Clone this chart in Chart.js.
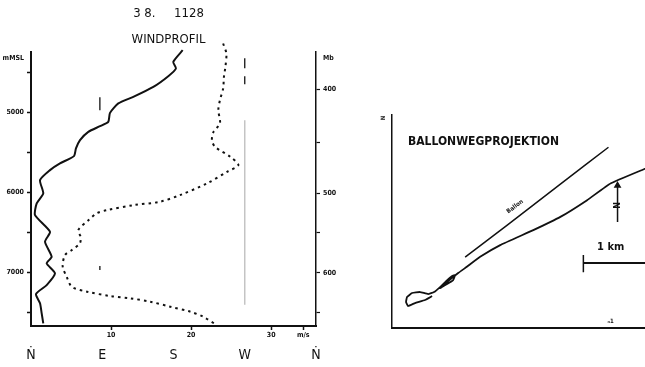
<!DOCTYPE html>
<html>
<head>
<meta charset="utf-8">
<script src="https://cdn.jsdelivr.net/npm/chart.js@4"></script>
<style>
  body { margin: 0; background: #fff; overflow: hidden; }
  #wind { position: absolute; left: 0; top: 0; }
  #path { position: absolute; left: 370px; top: 100px; }
</style>
</head>
<body>
<canvas id="wind" width="337" height="367"></canvas>
<canvas id="path" width="281" height="240"></canvas>
<script>
// --- Windprofil: height (m), direction (deg), speed (m/s)
const dirHeights = [4225, 4371, 4454, 4550, 4684, 4809, 4891, 5009, 5121, 5175, 5246, 5350, 5454, 5550, 5641, 5725,
  5850, 6016, 6141, 6288, 6496, 6621, 6809, 6891, 7016, 7163, 7275, 7391, 7516, 7641];
const dirValues = [191.6, 179.7, 183.1, 173.4, 154.5, 129.2, 110.3, 99.8, 97.6, 87.2, 72.4, 61.9, 56.8, 54.3, 36.6, 24.0,
  11.4, 15.5, 7.2, 5.1, 24.0, 17.7, 26.1, 19.8, 30.3, 19.8, 6.3, 11.4, 13.5, 15.5];

const speedHeights = [4141, 4266, 4420, 4559, 4704, 4850, 4975, 5141, 5246, 5350, 5434, 5559, 5663, 5740, 5891, 6038,
  6121, 6163, 6225, 6266, 6350, 6475, 6560, 6641, 6725, 6788, 6934, 7059, 7184, 7246, 7300, 7329, 7371, 7434, 7496, 7559, 7663];
const speedValues = [24.0, 24.4, 24.3, 24.1, 24.0, 23.6, 23.4, 23.6, 22.8, 22.6, 23.0, 24.9, 25.9, 24.6, 22.0, 18.6,
  16.1, 12.8, 9.5, 8.2, 7.2, 5.9, 6.2, 6.1, 5.1, 4.25, 3.96, 4.46, 5.1, 7.0, 9.9, 12.4, 14.9, 17.4, 19.9, 21.5, 23.2];

// marks drawn on the profile
const wLineHeights = [5100, 7410];
const wDashHeights = [[4325, 4450], [4550, 4650]];
const eMarkHeights = [[4812, 4975], [6925, 6975]];

// axes
const leftTickValues = [4325, 4500, 5000, 5500, 6000, 6500, 7000, 7500];
const leftTickLabels = ['mMSL', '', '5000', '', '6000', '', '7000', ''];
const rightTickValues = [4325, 4712, 5375, 6012, 6500, 7012, 7500];
const rightTickLabels = ['Mb', '400', '', '500', '', '600', ''];
const speedTickValues = [10, 20, 30, 34];
const speedTickLabels = ['10', '20', '30', 'm/s'];
const dirTickValues = [0, 90, 180, 270, 360];
const dirTickLabels = ['Ṅ', 'E', 'S', 'W', 'Ṅ'];

// --- Ballonwegprojektion (km)
const pathX = [0.645, 0.532, 0.371, 0.258, 0.226, 0.242, 0.323, 0.452, 0.581, 0.677, 0.774, 0.871, 0.968, 1.016, 0.984, 0.887, 0.774,
  1.065, 1.205, 1.419, 1.742, 2.274, 2.710, 3.140, 3.516, 4.081];
const pathY = [0.516, 0.452, 0.403, 0.355, 0.419, 0.500, 0.565, 0.581, 0.548, 0.581, 0.661, 0.758, 0.839, 0.855, 0.774, 0.710, 0.645,
  0.887, 0.989, 1.150, 1.339, 1.581, 1.795, 2.065, 2.334, 2.576];
const trackX = [1.177, 1.855, 2.710, 3.484];
const trackY = [1.145, 1.661, 2.323, 2.919];
const northX = [3.63, 3.63];
const northY = [1.71, 2.30];
const scaleBarX = [3.08, 4.08];
const scaleBarY = [1.048, 1.048];

const FONT = "'DejaVu Sans Condensed', 'DejaVu Sans', sans-serif";
const INK = '#111';

const pts = (xs, ys) => xs.map((x, i) => ({ x: x, y: ys[i] }));
const segs = (x, list) => {
  const out = [];
  list.forEach((s, i) => {
    if (i > 0) out.push({ x: x, y: null });
    out.push({ x: x, y: s[0] }, { x: x, y: s[1] });
  });
  return out;
};

new Chart(document.getElementById('wind'), {
  type: 'line',
  data: {
    datasets: [
      {
        data: pts(dirValues, dirHeights), xAxisID: 'xd', yAxisID: 'y',
        borderColor: INK, borderWidth: 2, pointRadius: 0, tension: 0.2, clip: false
      },
      {
        data: pts(speedValues, speedHeights), xAxisID: 'x', yAxisID: 'y',
        borderColor: INK, borderWidth: 2, borderDash: [2.5, 4], pointRadius: 0, tension: 0.3, clip: false
      },
      {
        data: segs(270, [wLineHeights]), xAxisID: 'xd', yAxisID: 'y',
        borderColor: '#c4c4c4', borderWidth: 1.5, pointRadius: 0
      },
      {
        data: segs(270, wDashHeights), xAxisID: 'xd', yAxisID: 'y',
        borderColor: INK, borderWidth: 1.3, pointRadius: 0
      },
      {
        data: segs(87, eMarkHeights), xAxisID: 'xd', yAxisID: 'y',
        borderColor: INK, borderWidth: 1.3, pointRadius: 0
      }
    ]
  },
  options: {
    responsive: false,
    animation: false,
    devicePixelRatio: 1,
    layout: { padding: 0 },
    plugins: {
      legend: { display: false },
      tooltip: { enabled: false },
      title: {
        display: true, text: '3 8.     1128', color: INK,
        font: { family: FONT, size: 13, weight: 'normal' }, padding: { top: 6, bottom: 4 }
      },
      subtitle: {
        display: true, text: 'WINDPROFIL', color: INK,
        font: { family: FONT, size: 13, weight: 'normal' }, padding: { top: 6, bottom: 5 }
      }
    },
    scales: {
      x: {
        type: 'linear', position: 'bottom', min: 0, max: 35.6, weight: 0,
        afterBuildTicks: s => { s.ticks = speedTickValues.map(v => ({ value: v })); },
        afterFit: s => { s.height = 16; },
        ticks: {
          callback: (v, i) => speedTickLabels[i], autoSkip: false, maxRotation: 0,
          font: { family: FONT, size: 7, weight: 'bold' }, color: INK, padding: 1
        },
        grid: { drawOnChartArea: false, tickLength: 4, tickColor: INK, tickWidth: 1.5 },
        border: { color: INK, width: 2 }
      },
      xd: {
        type: 'linear', position: 'bottom', min: 0, max: 360, weight: 1,
        afterBuildTicks: s => { s.ticks = dirTickValues.map(v => ({ value: v })); },
        afterFit: s => { s.height = 25; },
        ticks: {
          callback: (v, i) => dirTickLabels[i], autoSkip: false, maxRotation: 0,
          font: { family: FONT, size: 14 }, color: INK, padding: 5
        },
        grid: { display: false, drawTicks: false },
        border: { display: false }
      },
      y: {
        type: 'linear', position: 'left', min: 4250, max: 7675, reverse: true,
        afterBuildTicks: s => { s.ticks = leftTickValues.map(v => ({ value: v })); },
        afterFit: s => { s.width = 31; },
        ticks: {
          callback: (v, i) => leftTickLabels[i], autoSkip: false,
          font: { family: FONT, size: 7, weight: 'bold' }, color: INK, padding: 3
        },
        grid: {
          drawOnChartArea: false, tickLength: 4, tickWidth: 1.5,
          tickColor: ctx => (ctx.index === 0 ? 'rgba(0,0,0,0)' : INK)
        },
        border: { color: INK, width: 2 }
      },
      y2: {
        type: 'linear', position: 'right', min: 4250, max: 7675, reverse: true,
        afterBuildTicks: s => { s.ticks = rightTickValues.map(v => ({ value: v })); },
        afterFit: s => { s.width = 21; },
        ticks: {
          callback: (v, i) => rightTickLabels[i], autoSkip: false,
          font: { family: FONT, size: 7, weight: 'bold' }, color: INK, padding: 3
        },
        grid: {
          drawOnChartArea: false, tickLength: 4, tickWidth: 1.2,
          tickColor: ctx => (ctx.index === 0 ? 'rgba(0,0,0,0)' : INK)
        },
        border: { color: INK, width: 1.5 }
      }
    }
  }
});

// texts inside the projection, placed in km
const pathNotes = [
  { text: 'BALLONWEGPROJEKTION', x: 0.258, y: 3.0, size: 12, bold: true, align: 'left', angle: 0 },
  { text: '1 km', x: 3.52, y: 1.31, size: 11, bold: true, align: 'center', angle: 0 },
  { text: 'Ballon', x: 1.98, y: 1.96, size: 6, bold: true, align: 'center', angle: -37 },
  { text: 'N', x: 3.63, y: 1.98, size: 9, bold: true, align: 'center', angle: -90 },
  { text: 'N', x: -0.13, y: 3.39, size: 6, bold: true, align: 'center', angle: -90 },
  { text: 'ₙ1', x: 3.52, y: 0.10, size: 6, bold: true, align: 'center', angle: 0 }
];

const notesPlugin = {
  id: 'notes',
  afterDatasetsDraw(chart) {
    const { ctx, scales: { x, y } } = chart;
    ctx.save();
    ctx.fillStyle = INK;
    ctx.textBaseline = 'middle';
    pathNotes.forEach(n => {
      ctx.save();
      ctx.translate(x.getPixelForValue(n.x), y.getPixelForValue(n.y));
      ctx.rotate(n.angle * Math.PI / 180);
      ctx.font = (n.bold ? 'bold ' : '') + n.size + 'px ' + FONT;
      ctx.textAlign = n.align;
      ctx.fillText(n.text, 0, 0);
      ctx.restore();
    });
    ctx.restore();
  }
};

new Chart(document.getElementById('path'), {
  type: 'line',
  data: {
    datasets: [
      { data: pts(pathX, pathY), borderColor: INK, borderWidth: 1.8, pointRadius: 0, tension: 0.1, clip: false },
      { data: pts(trackX, trackY), borderColor: INK, borderWidth: 1.5, pointRadius: 0, tension: 0.2 },
      {
        data: pts(northX, northY), borderColor: INK, backgroundColor: INK, borderWidth: 1.5,
        pointRadius: [0, 3], pointStyle: 'triangle'
      },
      { data: pts(scaleBarX, scaleBarY), borderColor: INK, borderWidth: 2, pointRadius: 0, clip: false },
      { data: pts([3.08, 3.08], [0.90, 1.18]), borderColor: INK, borderWidth: 1.5, pointRadius: 0 }
    ]
  },
  options: {
    responsive: false,
    animation: false,
    devicePixelRatio: 1,
    layout: { padding: { left: 22, top: 15, bottom: 12, right: 0 } },
    plugins: { legend: { display: false }, tooltip: { enabled: false } },
    scales: {
      x: {
        type: 'linear', min: 0, max: 4.08,
        ticks: { display: false }, grid: { display: false, drawTicks: false },
        border: { color: INK, width: 2 }
      },
      y: {
        type: 'linear', min: 0, max: 3.44,
        ticks: { display: false }, grid: { display: false, drawTicks: false },
        border: { color: INK, width: 1.5 }
      }
    }
  },
  plugins: [notesPlugin]
});
</script>
</body>
</html>
